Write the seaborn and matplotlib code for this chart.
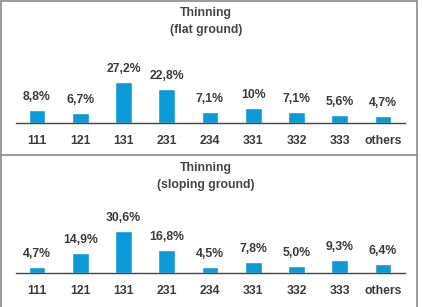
import matplotlib
matplotlib.use("Agg")
import matplotlib.pyplot as plt
from matplotlib.lines import Line2D
import seaborn as sns
import pandas as pd

categories = ["111", "121", "131", "231", "234", "331", "332", "333", "others"]
flat_values = [8.8, 6.7, 27.2, 22.8, 7.1, 10.0, 7.1, 5.6, 4.7]
flat_labels = ["8,8%", "6,7%", "27,2%", "22,8%", "7,1%", "10%", "7,1%", "5,6%", "4,7%"]
slope_values = [4.7, 14.9, 30.6, 16.8, 4.5, 7.8, 5.0, 9.3, 6.4]
slope_labels = ["4,7%", "14,9%", "30,6%", "16,8%", "4,5%", "7,8%", "5,0%", "9,3%", "6,4%"]
titles = ["Thinning\n(flat ground)", "Thinning\n(sloping ground)"]

sns.set_theme(style="white")
plt.rcParams['font.family'] = ['Liberation Sans', 'DejaVu Sans']

W, H = 422, 307
fig = plt.figure(figsize=(W / 100, H / 100), dpi=100)
fig.patch.set_facecolor("white")

bar_color = "#0b9ad8"
text_color = "#3a3a3a"
fs = 8.8

def px_axes(x0, y_top, x1, y_bot):
    return fig.add_axes([x0 / W, 1 - y_bot / H, (x1 - x0) / W, (y_bot - y_top) / H])

panels = [
    (flat_values, flat_labels, 123, 82, titles[0], 13, 30),
    (slope_values, slope_labels, 273, 231, titles[1], 168, 185),
]

for vals, labs, base, maxtop, title, ty1, ty2 in panels:
    ax = px_axes(16, base - 90, 405, base)
    df = pd.DataFrame({"cat": categories, "val": vals})
    sns.barplot(data=df, x="cat", y="val", color=bar_color, width=0.39,
                saturation=1, ax=ax, order=categories)
    top = max(vals) * 90 / (base - maxtop)
    ax.set_ylim(0, top)
    ax.set_xlim(-0.486, 8.51)
    for i, (v, l) in enumerate(zip(vals, labs)):
        ax.annotate(l, (i, v), xytext=(0, 5), textcoords="offset points",
                    ha="center", va="bottom", fontsize=fs, fontweight="bold",
                    color=text_color)
    for s in ["top", "left", "right"]:
        ax.spines[s].set_visible(False)
    ax.spines["bottom"].set_color("#444444")
    ax.spines["bottom"].set_linewidth(1.0)
    ax.set_yticks([])
    ax.set_xlabel("")
    ax.set_ylabel("")
    ax.tick_params(axis="x", length=0, pad=8.5, labelsize=fs, labelcolor=text_color)
    for t in ax.get_xticklabels():
        t.set_fontweight("bold")
    lines = title.split("\n")
    fig.text(206 / W, 1 - ty1 / H, lines[0], ha="center", va="center",
             fontsize=fs, fontweight="bold", color="#444444")
    fig.text(206 / W, 1 - ty2 / H, lines[1], ha="center", va="center",
             fontsize=fs, fontweight="bold", color="#444444")

# panel borders
bc = "#8a8a8a"
for (x0, y0, x1, y1) in [(1, 1, 417, 1), (1, 1, 1, 307), (417, 1, 417, 307), (1, 155, 417, 155)]:
    fig.add_artist(Line2D([x0 / W, x1 / W], [1 - y0 / H, 1 - y1 / H],
                          color=bc, linewidth=1.2, transform=fig.transFigure))

fig.savefig("out.png", dpi=100)
